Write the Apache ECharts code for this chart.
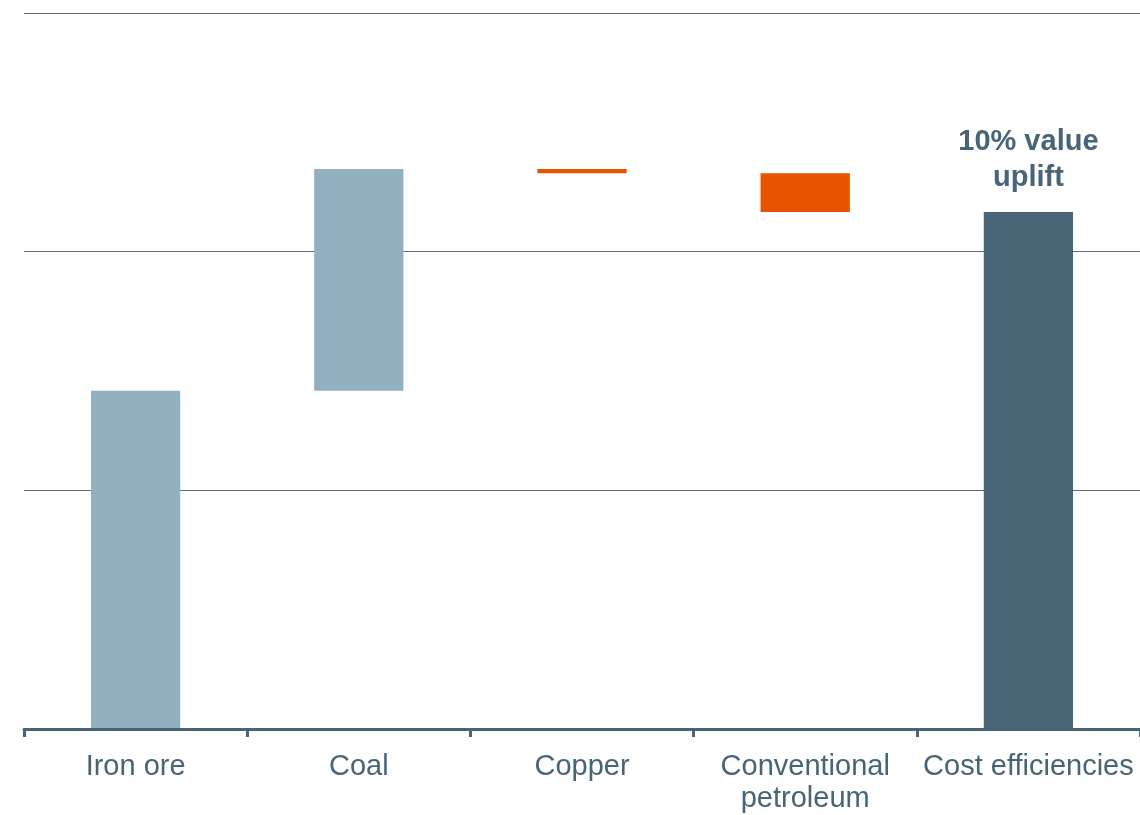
<!DOCTYPE html>
<html>
<head>
<meta charset="utf-8">
<script src="https://cdn.jsdelivr.net/npm/echarts@6/dist/echarts.min.js"></script>
<style>
  html, body { margin: 0; padding: 0; background: #fff; }
  #chart { width: 1140px; height: 815px; }
</style>
</head>
<body>
<div id="chart"></div>
<script>
// waterfall steps (gridline step = 100)
const categories = ['Iron ore', 'Coal', 'Copper', 'Conventional\npetroleum', 'Cost efficiencies'];
const changes = [141.7, 92.9, -1.7, -16.25, null];   // null = running total bar
const totalLabel = '10% value\nuplift';

const LIGHT = '#91b1c1';
const ORANGE = '#e65400';
const DARK = '#476576';
const TEXT = '#476577';

// build invisible base + visible bar from the changes
const base = [];
const visible = [];
let running = 0;
changes.forEach((d, i) => {
  if (d === null) {
    base.push(0);
    visible.push({ value: running, itemStyle: { color: DARK } });
  } else if (d >= 0) {
    base.push(running);
    visible.push({ value: d, itemStyle: { color: LIGHT } });
    running += d;
  } else {
    running += d;
    base.push(running);
    visible.push({ value: -d, itemStyle: { color: ORANGE } });
  }
});

const chart = echarts.init(document.getElementById('chart'));
chart.setOption({
  animation: false,
  grid: { left: 24, width: 1120, top: 13, height: 720 },
  xAxis: {
    type: 'category',
    data: categories,
    axisLine: { lineStyle: { color: DARK, width: 3 } },
    axisTick: { show: true, length: 8, lineStyle: { color: DARK, width: 3 } },
    axisLabel: {
      color: TEXT, fontSize: 29, fontFamily: 'Liberation Sans, Arial, sans-serif',
      margin: 22, lineHeight: 32, interval: 0
    },
    z: 10
  },
  yAxis: {
    type: 'value',
    min: 0, max: 300, interval: 100,
    axisLine: { show: false },
    axisTick: { show: false },
    axisLabel: { show: false },
    splitLine: { lineStyle: { color: '#5b6d79', width: 1 } }
  },
  series: [
    {
      type: 'bar', stack: 'w', data: base, barWidth: '40%',
      itemStyle: { color: 'transparent' }, silent: true
    },
    {
      type: 'bar', stack: 'w', data: visible, barWidth: '40%',
      label: {
        show: true, position: 'top', distance: 16,
        formatter: p => (changes[p.dataIndex] === null ? totalLabel : ''),
        color: TEXT, fontSize: 29, fontWeight: 'bold', lineHeight: 36,
        fontFamily: 'Liberation Sans, Arial, sans-serif'
      }
    }
  ]
});
</script>
</body>
</html>
